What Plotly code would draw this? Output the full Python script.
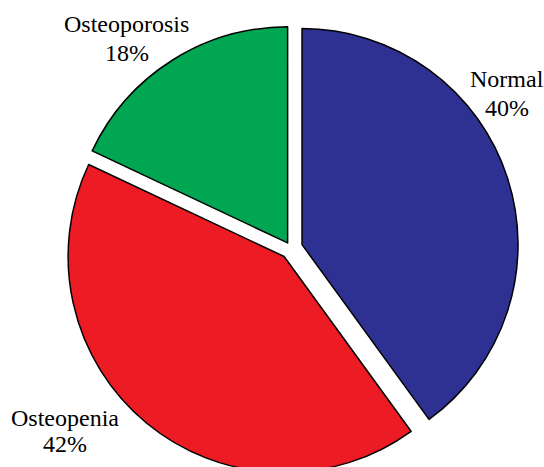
import plotly.graph_objects as go

categories = ["Normal", "Osteopenia", "Osteoporosis"]
percent = [40, 42, 18]
colors = ["#2E3192", "#ED1C24", "#00A651"]
explode = [0.0537, 0.050, 0.0292]

W, H = 544, 476

fig = go.Figure(go.Pie(
    labels=categories,
    values=percent,
    sort=False,
    direction="clockwise",
    rotation=0,
    pull=explode,
    marker=dict(colors=colors, line=dict(color="black", width=1.5)),
    textinfo="none",
    hoverinfo="label+percent",
    showlegend=False,
    domain=dict(x=[0.11654, 0.95331], y=[0.0, 0.95714]),
))

# label line centres (pixels from top-left)
label_pos = {"Osteoporosis": (126.5, 24, 52.5), "Normal": (506.5, 79.5, 108), "Osteopenia": (64.5, 417.5, 444)}
font = dict(family="Liberation Serif", size=24, color="black")
for cat, val in zip(categories, percent):
    px, py1, py2 = label_pos[cat]
    for txt, py in ((cat, py1), (f"{val}%", py2)):
        fig.add_annotation(
            x=px / W, y=1 - py / H, xref="paper", yref="paper",
            text=txt, showarrow=False, font=font,
            xanchor="center", yanchor="middle",
        )

fig.update_layout(
    width=W, height=H,
    margin=dict(l=0, r=0, t=0, b=0),
    paper_bgcolor="white", plot_bgcolor="white",
)

fig.write_html(
    "out.html",
    config={"displayModeBar": False},
    post_script="document.body.style.margin='0';document.body.style.overflow='hidden';",
)
